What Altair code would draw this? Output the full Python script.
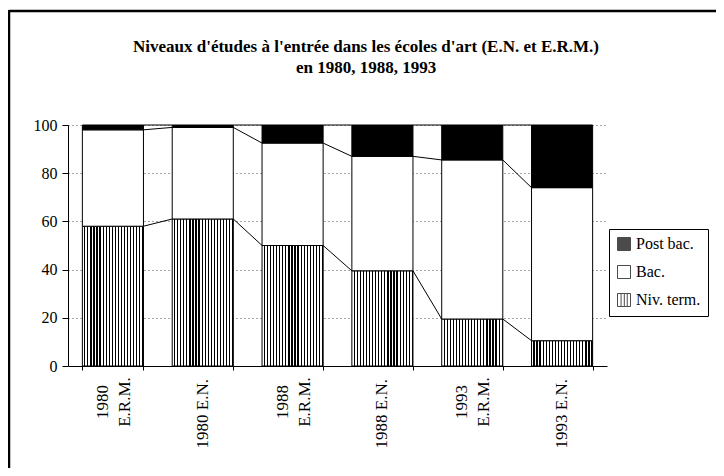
import altair as alt
import pandas as pd

categories = ["1980|E.R.M.", "1980 E.N.", "1988|E.R.M.", "1988 E.N.", "1993|E.R.M.", "1993 E.N."]
niv_term = [58, 61, 50, 39.5, 19.5, 10.5]
bac = [40, 38, 42.5, 47.5, 66, 63.5]
post_bac = [2, 1, 7.5, 13, 14.5, 26]
series = ["Post bac.", "Bac.", "Niv. term."]
y_ticks = [0, 20, 40, 60, 80, 100]
title_lines = ["Niveaux d'études à l'entrée dans les écoles d'art (E.N. et E.R.M.)",
               "en 1980, 1988, 1993"]

rows = []
for i, c in enumerate(categories):
    lo = 0.0
    for s, v in (("Niv. term.", niv_term[i]), ("Bac.", bac[i]), ("Post bac.", post_bac[i])):
        rows.append(dict(cat=c, series=s, y0=lo, y1=lo + v))
        lo += v
df = pd.DataFrame(rows)

lines = []
for i in range(len(categories) - 1):
    a = [niv_term[i], niv_term[i] + bac[i], niv_term[i] + bac[i] + post_bac[i]]
    b = [niv_term[i + 1], niv_term[i + 1] + bac[i + 1], niv_term[i + 1] + bac[i + 1] + post_bac[i + 1]]
    for k in range(3):
        lines.append(dict(cat=categories[i], cat_next=categories[i + 1], ya=a[k], yb=b[k]))
lines_df = pd.DataFrame(lines)
cat_df = pd.DataFrame({"cat": categories})

FONT = "Liberation Serif"
W, H = 539, 241

xscale = alt.Scale(domain=categories, paddingInner=0.32, paddingOuter=0.16)
yscale = alt.Scale(domain=[0, 100], nice=False)

xaxis = alt.Axis(title=None, labels=False, tickSize=4, tickBand="extent", grid=False,
                 domainColor="black", tickColor="black")
yaxis = alt.Axis(title=None, values=y_ticks, grid=True, gridDash=[1, 3], gridColor="black",
                 gridOpacity=0.7, tickSize=6, labelPadding=5, labelFontSize=16,
                 labelFont=FONT, labelColor="black", domainColor="black", tickColor="black")

stops = []
N = 20
for i in range(N):
    stops += [alt.GradientStop(color="white", offset=round(i / N, 4)),
              alt.GradientStop(color="white", offset=round((i + 0.6) / N, 4)),
              alt.GradientStop(color="black", offset=round((i + 0.6) / N, 4)),
              alt.GradientStop(color="black", offset=round((i + 1) / N, 4))]
hatch = alt.LinearGradient(gradient="linear", stops=stops, x1=0, x2=1, y1=0, y2=0)

base = alt.Chart(df).encode(
    x=alt.X("cat:N", scale=xscale, axis=xaxis, sort=categories),
    y=alt.Y("y0:Q", scale=yscale, axis=yaxis),
    y2="y1:Q",
)
bars_post = base.transform_filter(alt.datum.series == "Post bac.").mark_bar(
    fill="black", stroke="black", strokeWidth=1)
bars_bac = base.transform_filter(alt.datum.series == "Bac.").mark_bar(
    fill="white", stroke="black", strokeWidth=1)
bars_niv = base.transform_filter(alt.datum.series == "Niv. term.").mark_bar(
    fill=hatch, stroke="black", strokeWidth=1)

series_lines = alt.Chart(lines_df).mark_rule(color="black", strokeWidth=1).encode(
    x=alt.X("cat:N", bandPosition=1, scale=xscale, axis=xaxis, sort=categories),
    x2=alt.X2("cat_next:N", bandPosition=0),
    y=alt.Y("ya:Q", scale=yscale, axis=yaxis),
    y2="yb:Q",
)

# category labels (rotated), drawn through the x scale
lab_base = alt.Chart(cat_df).transform_calculate(
    parts="split(datum.cat, '|')",
    l1="datum.parts[0]",
    l2="length(datum.parts) > 1 ? datum.parts[1] : ''",
    two="length(datum.parts) > 1",
)
lab_style = dict(font=FONT, fontSize=17, color="black", angle=270, baseline="middle")
lab_single = lab_base.transform_filter("!datum.two").mark_text(align="right", **lab_style).encode(
    x=alt.X("cat:N", scale=xscale, axis=xaxis, sort=categories),
    y=alt.value(H + 13), text="l1:N")
lab_first = lab_base.transform_filter("datum.two").mark_text(align="center", xOffset=-10, **lab_style).encode(
    x=alt.X("cat:N", scale=xscale, axis=xaxis, sort=categories),
    y=alt.value(H + 36), text="l1:N")
lab_second = lab_base.transform_filter("datum.two").mark_text(align="center", xOffset=12, **lab_style).encode(
    x=alt.X("cat:N", scale=xscale, axis=xaxis, sort=categories),
    y=alt.value(H + 36), text="l2:N")

sq = "M-1,-1H1V1H-1Z"
hatch_sym = "M-1,-1H1V1H-1Z M-0.45,-1V1 M0.05,-1V1 M0.5,-1V1"
leg = dict(title=None, orient="none", legendX=541, legendY=104, padding=7,
           strokeColor="black", fillColor="white", labelFont=FONT, labelFontSize=16,
           labelColor="black", symbolSize=169, rowPadding=10, labelOffset=4,
           symbolStrokeColor="black", symbolStrokeWidth=1)
legend_layer = alt.Chart(df).transform_filter("false").mark_point(filled=True).encode(
    color=alt.Color("series:N", scale=alt.Scale(domain=series, range=["black", "white", "white"]),
                    legend=alt.Legend(**leg)),
    shape=alt.Shape("series:N", scale=alt.Scale(domain=series, range=[sq, sq, hatch_sym]),
                    legend=alt.Legend(**leg)),
)

frame_df = pd.DataFrame({"k": [0]})
title_layer = alt.Chart(frame_df).mark_text(
    font=FONT, fontSize=17, fontWeight="bold", color="black", align="center",
    baseline="alphabetic", lineHeight=21).encode(
    x=alt.value(298), y=alt.value(-73), text=alt.value(title_lines))
frame_top = alt.Chart(frame_df).mark_rule(color="black", strokeWidth=2.5).encode(
    x=alt.value(-59), x2=alt.value(650), y=alt.value(-114), y2=alt.value(-114))
frame_left = alt.Chart(frame_df).mark_rule(color="black", strokeWidth=2.5).encode(
    x=alt.value(-59), x2=alt.value(-59), y=alt.value(-115), y2=alt.value(345))

chart = alt.layer(
    bars_niv, bars_bac, bars_post, series_lines, lab_single, lab_first, lab_second,
    legend_layer, title_layer, frame_top, frame_left
).properties(
    width=W, height=H,
    autosize=alt.AutoSizeParams(type="none"),
    padding={"left": 60, "top": 117, "right": 109, "bottom": 102},
).configure_view(strokeWidth=0)

chart.save("out.html", embed_options={"renderer": "svg", "actions": False})
